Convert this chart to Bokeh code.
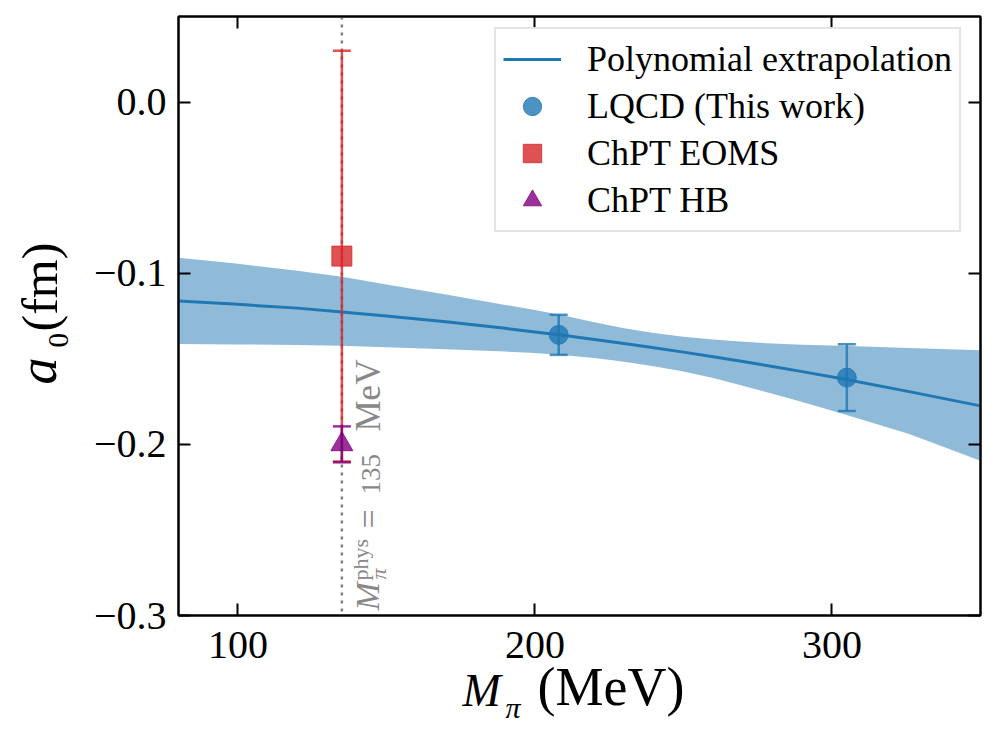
from bokeh.plotting import figure
from bokeh.layouts import row, column
from bokeh.models import (Span, Label, Legend, LegendItem, LinearAxis, FixedTicker,
                          CustomJSTickFormatter, Range1d)
from bokeh.embed import file_html
from bokeh.resources import INLINE

FONT = "Liberation Serif"

# ---------------- data ----------------
x_ticks = [100, 200, 300]
y_ticks = [-0.3, -0.2, -0.1, 0.0]

# polynomial extrapolation (central value and 1-sigma band)
fit_x = [80, 100, 120, 135, 150, 170, 190, 200, 210, 220, 230, 240, 250, 260, 270,
         280, 290, 303, 326, 350]
fit_c = [-0.1162, -0.1182, -0.1204, -0.1226, -0.1250, -0.1284, -0.1322, -0.1343,
         -0.1364, -0.1387, -0.1411, -0.1436, -0.1461, -0.1488, -0.1516, -0.1545,
         -0.1575, -0.1615, -0.1692, -0.1775]
fit_hi = [-0.0910, -0.0945, -0.0985, -0.1020, -0.1066, -0.1124, -0.1185, -0.1215,
          -0.1248, -0.1286, -0.1322, -0.1350, -0.1371, -0.1388, -0.1401, -0.1411,
          -0.1418, -0.1424, -0.1437, -0.1450]
fit_lo = [-0.1413, -0.1416, -0.1420, -0.1424, -0.1433, -0.1445, -0.1458, -0.1466,
          -0.1479, -0.1496, -0.1517, -0.1543, -0.1575, -0.1613, -0.1657, -0.1705,
          -0.1753, -0.1818, -0.1940, -0.2096]

lqcd_x = [208, 305]
lqcd_y = [-0.136, -0.161]
lqcd_e = [0.0117, 0.0195]

eoms_x = [135]
eoms_y = [-0.090]
eoms_e = [0.120]

hb_x = [135]
hb_y = [-0.200]
hb_e = [0.0105]

m_phys = 135

BLUE = "#1f77b4"
RED = "#d62728"
PURPLE = "#800080"
GREY = "#808080"
ANN = "#888888"

# ---------------- main figure ----------------
p = figure(width=909, height=675, x_range=Range1d(80, 350), y_range=Range1d(-0.3, 0.05),
           output_backend="svg", toolbar_location=None,
           min_border_left=98, min_border_right=9, min_border_top=16, min_border_bottom=60)
p.grid.visible = False
p.outline_line_color = "black"
p.outline_line_width = 2
p.background_fill_color = "white"
p.border_fill_color = "white"


def style_axis(ax, show_labels):
    ax.axis_line_color = "black"
    ax.axis_line_width = 2
    ax.major_tick_in = 12
    ax.major_tick_out = 0
    ax.major_tick_line_width = 2
    ax.major_tick_line_color = "black"
    ax.minor_tick_line_color = None
    ax.axis_label = None
    if show_labels:
        ax.major_label_text_font = FONT
        ax.major_label_text_font_size = "40px"
        ax.major_label_text_color = "black"
    else:
        ax.formatter = CustomJSTickFormatter(code="return '';")
        ax.major_label_text_font_size = "1px"
        ax.major_label_standoff = 0
        ax.axis_label_standoff = 0


p.xaxis.ticker = FixedTicker(ticks=x_ticks)
p.yaxis.ticker = FixedTicker(ticks=y_ticks)
p.yaxis.formatter = CustomJSTickFormatter(code="return tick.toFixed(1).replace('-', '\u2212');")
style_axis(p.xaxis[0], True)
style_axis(p.yaxis[0], True)
p.xaxis.major_label_standoff = 16
p.yaxis.major_label_standoff = 12

top = LinearAxis(ticker=FixedTicker(ticks=x_ticks))
right = LinearAxis(ticker=FixedTicker(ticks=y_ticks))
style_axis(top, False)
style_axis(right, False)
p.add_layout(top, "above")
p.add_layout(right, "right")

# physical pion mass
p.add_layout(Span(location=m_phys, dimension="height", line_color=GREY, line_width=2.5,
                  line_dash="3 5", level="underlay"))

# band + central line
p.varea(x=fit_x, y1=fit_lo, y2=fit_hi, fill_color=BLUE, fill_alpha=0.5)
line_r = p.line(fit_x, fit_c, line_color=BLUE, line_width=3)


def errorbar(xs, ys, es, color, marker, size):
    lo = [y - e for y, e in zip(ys, es)]
    hi = [y + e for y, e in zip(ys, es)]
    p.segment(x0=xs, y0=lo, x1=xs, y1=hi, line_color=color, line_alpha=0.8, line_width=2.5)
    p.scatter(x=xs + xs, y=lo + hi, marker="dash", size=18, line_color=color,
              line_alpha=0.8, line_width=2.5)
    return p.scatter(x=xs, y=ys, marker=marker, size=size, fill_color=color, fill_alpha=0.8,
                     line_color=color, line_alpha=0.8, line_width=1)


lq_r = errorbar(lqcd_x, lqcd_y, lqcd_e, BLUE, "circle", 19)
eo_r = errorbar(eoms_x, eoms_y, eoms_e, RED, "square", 20)
hb_r = errorbar(hb_x, hb_y, hb_e, PURPLE, "triangle", 22)

# legend
legend = Legend(items=[
    LegendItem(label="Polynomial extrapolation", renderers=[line_r]),
    LegendItem(label="LQCD (This work)", renderers=[lq_r]),
    LegendItem(label="ChPT EOMS", renderers=[eo_r]),
    LegendItem(label="ChPT HB", renderers=[hb_r]),
], location=(316, 383))
legend.label_text_font = FONT
legend.label_text_font_size = "36px"
legend.label_text_color = "black"
legend.glyph_width = 58
legend.glyph_height = 46
legend.label_height = 46
legend.label_standoff = 26
legend.padding = 7
legend.spacing = 1
legend.margin = 0
legend.border_line_color = "#cccccc"
legend.border_line_width = 2
legend.background_fill_color = "white"
legend.background_fill_alpha = 0.85
p.add_layout(legend)

SHIFT = 0.38  # baseline offset (in em) for "middle"-anchored labels


def make_label(fig, text, x, y, size, style="normal", angle=0, color="black"):
    fig.add_layout(Label(x=x, y=y, x_units="screen", y_units="screen", text=text,
                         text_font=FONT, text_font_size=f"{size}px", text_font_style=style,
                         angle=angle, angle_units="deg", text_align="left",
                         text_baseline="middle", text_color=color))


# annotation  M_pi^phys = 135 MeV  (inside main frame; frame left 178, bottom 615)
def ann(text, base_x, start_y, size, style="normal"):
    make_label(p, text, base_x - SHIFT * size - 178, 615 - start_y, size, style, 90, ANN)


ann("M", 380, 610, 34, "italic")
ann("\u03c0", 386, 579, 22, "italic")
ann("phys", 368, 580, 22)
ann("=", 381, 528, 34)
ann("135", 381, 494, 27)
ann("MeV", 381, 431, 35)


def blank_fig(w, h):
    f = figure(width=w, height=h, x_range=Range1d(0, 1), y_range=Range1d(0, 1),
               x_axis_type=None, y_axis_type=None, output_backend="svg",
               toolbar_location=None, min_border=0)
    f.outline_line_color = None
    f.grid.visible = False
    f.background_fill_alpha = 0
    f.border_fill_alpha = 0
    return f


# y axis title  a_0(fm)   (panel covers page x 0..80, y 0..736)
ylab = blank_fig(80, 736)


def ytitle(text, base_x, start_y, size, style="normal"):
    make_label(ylab, text, base_x - SHIFT * size, 736 - start_y, size, style, 90)


ytitle("a", 58, 384, 54, "italic")
ytitle("0", 69, 347, 29)
ytitle("(fm)", 58, 331, 50)

# x axis title  M_pi (MeV)   (transparent panel pulled up 24px over the main figure's
# bottom border; its frame is aligned with the main frame: left 178, bottom 736)
xlab = blank_fig(909, 85)
xlab.margin = (-24, 0, 0, 0)


def xtitle(text, start_x, base_y, size, style="normal"):
    make_label(xlab, text, start_x - 178, 736 - base_y + SHIFT * size, size, style)


xtitle("M", 462, 707, 46, "italic")
xtitle("\u03c0", 505, 718, 30, "italic")
xtitle("(MeV)", 537, 707, 54)

layout = row(ylab, column(p, xlab, spacing=0), spacing=0)

open("out.html", "w").write(file_html(layout, INLINE))
